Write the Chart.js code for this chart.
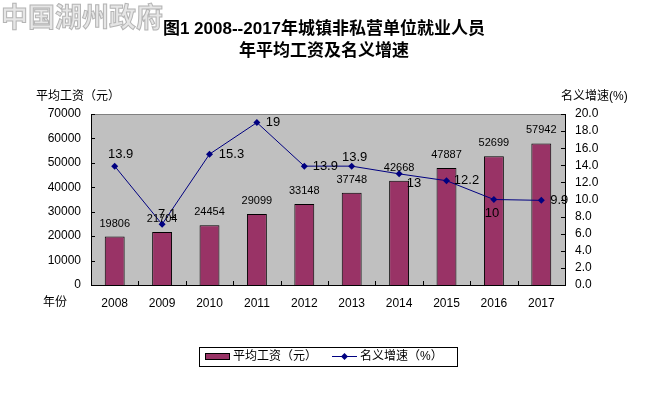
<!DOCTYPE html>
<html>
<head>
<meta charset="utf-8">
<script src="https://cdn.jsdelivr.net/npm/chart.js@4.4.1/dist/chart.umd.min.js"></script>
<style>
  body { margin: 0; background: #fff; }
  canvas { display: block; }
</style>
</head>
<body>
<canvas id="wageChart" width="669" height="394"></canvas>
<script>
// chart data
const years = ['2008', '2009', '2010', '2011', '2012', '2013', '2014', '2015', '2016', '2017'];
const avgWage = [19806, 21704, 24454, 29099, 33148, 37748, 42668, 47887, 52699, 57942];
const growthRate = [13.9, 7.1, 15.3, 19, 13.9, 13.9, 13, 12.2, 10, 9.9];
const wageAxisMax = 70000;
const wageAxisStep = 10000;
const rateAxisMax = 20;
const rateAxisStep = 2;

// where each growth label sits relative to its point [dx, dy]
const rateLabelShift = [[6, -12], [5, -10], [22, 0], [16, 0], [21, 0], [3, -9], [15, 10], [20, 0], [-2, 14], [18, 0]];

const FONT = '"Liberation Sans", Arial, "Noto Sans CJK SC", sans-serif';
const BAR_COLOR = '#993366';
const LINE_COLOR = '#000080';

Chart.defaults.font.family = FONT;
Chart.defaults.color = '#000';

// Draws the grey plot area, titles, labels, tick marks and the boxed legend
const decorPlugin = {
    id: 'decor',
    beforeDraw(chart) {
        const ctx = chart.ctx;
        const a = chart.chartArea;
        ctx.save();
        ctx.fillStyle = '#fff';
        ctx.fillRect(0, 0, chart.width, chart.height);
        ctx.fillStyle = '#C0C0C0';
        ctx.fillRect(a.left, a.top, a.right - a.left, a.bottom - a.top);
        ctx.strokeStyle = '#808080';
        ctx.lineWidth = 1;
        ctx.beginPath();
        ctx.moveTo(a.left, a.top + 0.5);
        ctx.lineTo(a.right, a.top + 0.5);
        ctx.stroke();

        // watermark
        ctx.font = 'bold 27px "Noto Sans CJK SC", sans-serif';
        ctx.textBaseline = 'middle';
        ctx.textAlign = 'left';
        ctx.fillStyle = '#e6e6e6';
        ctx.strokeStyle = '#b4b4b4';
        ctx.lineWidth = 1;
        ctx.fillText('中国湖州政府', 1, 17);
        ctx.strokeText('中国湖州政府', 1, 17);
        ctx.restore();
    },
    afterDatasetsDraw(chart) {
        const ctx = chart.ctx;
        const barMeta = chart.getDatasetMeta(0);
        const lineMeta = chart.getDatasetMeta(1);
        ctx.save();
        ctx.fillStyle = '#000';
        ctx.textBaseline = 'middle';
        ctx.textAlign = 'center';

        ctx.font = '11px ' + FONT;
        barMeta.data.forEach((bar, i) => {
            ctx.fillText(String(avgWage[i]), bar.x, bar.y - 13);
        });

        ctx.font = '13px ' + FONT;
        lineMeta.data.forEach((pt, i) => {
            const s = rateLabelShift[i];
            ctx.fillText(String(growthRate[i]), pt.x + s[0], pt.y + s[1]);
        });
        ctx.restore();
    },
    afterDraw(chart) {
        const ctx = chart.ctx;
        const a = chart.chartArea;
        const x = chart.scales.x;
        const y = chart.scales.y;
        const y1 = chart.scales.y1;
        ctx.save();

        // inward tick marks
        ctx.strokeStyle = '#000';
        ctx.lineWidth = 1;
        ctx.beginPath();
        const step = (x.right - x.left) / years.length;
        for (let i = 1; i < years.length; i++) {
            const px = Math.round(x.left + i * step) + 0.5;
            ctx.moveTo(px, a.bottom);
            ctx.lineTo(px, a.bottom - 4);
        }
        y.ticks.forEach((t, i) => {
            const py = Math.round(y.getPixelForTick(i)) + 0.5;
            ctx.moveTo(a.left, py);
            ctx.lineTo(a.left + 4, py);
        });
        y1.ticks.forEach((t, i) => {
            const py = Math.round(y1.getPixelForTick(i)) + 0.5;
            ctx.moveTo(a.right, py);
            ctx.lineTo(a.right - 4, py);
        });
        ctx.stroke();

        // titles
        ctx.fillStyle = '#000';
        ctx.textAlign = 'center';
        ctx.textBaseline = 'middle';
        ctx.font = 'bold 17px ' + FONT;
        ctx.fillText('图1 2008--2017年城镇非私营单位就业人员', 324, 29);
        ctx.fillText('年平均工资及名义增速', 324, 51);

        ctx.font = '12px ' + FONT;
        ctx.textAlign = 'left';
        ctx.fillText('平均工资（元）', 36, 97);
        ctx.fillText('名义增速(%)', 561, 97);
        ctx.fillText('年份', 43, 303);

        // legend
        ctx.strokeStyle = '#000';
        ctx.strokeRect(199.5, 347.5, 258, 19);
        ctx.fillStyle = BAR_COLOR;
        ctx.fillRect(205, 353, 25, 7);
        ctx.strokeRect(205.5, 353.5, 24, 6);
        ctx.fillStyle = '#000';
        ctx.fillText(chart.data.datasets[0].label, 233, 357);
        ctx.strokeStyle = LINE_COLOR;
        ctx.beginPath();
        ctx.moveTo(332, 356.5);
        ctx.lineTo(357, 356.5);
        ctx.stroke();
        ctx.fillStyle = LINE_COLOR;
        ctx.beginPath();
        ctx.moveTo(344.5, 353);
        ctx.lineTo(348, 356.5);
        ctx.lineTo(344.5, 360);
        ctx.lineTo(341, 356.5);
        ctx.closePath();
        ctx.fill();
        ctx.fillStyle = '#000';
        ctx.fillText(chart.data.datasets[1].label, 360, 357);
        ctx.restore();
    }
};

const ctx = document.getElementById('wageChart').getContext('2d');
const wageChart = new Chart(ctx, {
    type: 'bar',
    data: {
        labels: years,
        datasets: [{
            label: '平均工资（元）',
            data: avgWage,
            yAxisID: 'y',
            backgroundColor: BAR_COLOR,
            borderColor: '#000',
            borderWidth: 1,
            borderSkipped: 'bottom',
            barPercentage: 0.42,
            categoryPercentage: 1,
            order: 1
        }, {
            type: 'line',
            label: '名义增速（%）',
            data: growthRate,
            yAxisID: 'y1',
            borderColor: LINE_COLOR,
            borderWidth: 1,
            backgroundColor: LINE_COLOR,
            pointStyle: 'rectRot',
            pointRadius: 3.5,
            pointBorderWidth: 0,
            tension: 0,
            order: 0
        }]
    },
    options: {
        responsive: false,
        animation: false,
        layout: { padding: { top: 114, bottom: 69, left: 0, right: 0 } },
        plugins: {
            legend: { display: false },
            tooltip: { enabled: false }
        },
        scales: {
            x: {
                grid: { display: false, drawTicks: false },
                border: { color: '#000', width: 1 },
                ticks: { font: { size: 12 }, padding: 11, maxRotation: 0, autoSkip: false },
                afterFit(scale) { scale.height = 40; }
            },
            y: {
                position: 'left',
                min: 0,
                max: wageAxisMax,
                grid: { display: false, drawTicks: false },
                border: { color: '#000', width: 1 },
                ticks: {
                    stepSize: wageAxisStep,
                    font: { size: 12 },
                    padding: 10,
                    autoSkip: false,
                    callback: v => String(v)
                },
                afterFit(scale) { scale.width = 91; }
            },
            y1: {
                position: 'right',
                min: 0,
                max: rateAxisMax,
                grid: { display: false, drawTicks: false },
                border: { color: '#000', width: 1 },
                ticks: {
                    stepSize: rateAxisStep,
                    font: { size: 12 },
                    padding: 10,
                    autoSkip: false,
                    callback: v => v.toFixed(1)
                },
                afterFit(scale) { scale.width = 104; }
            }
        }
    },
    plugins: [decorPlugin]
});
</script>
</body>
</html>
